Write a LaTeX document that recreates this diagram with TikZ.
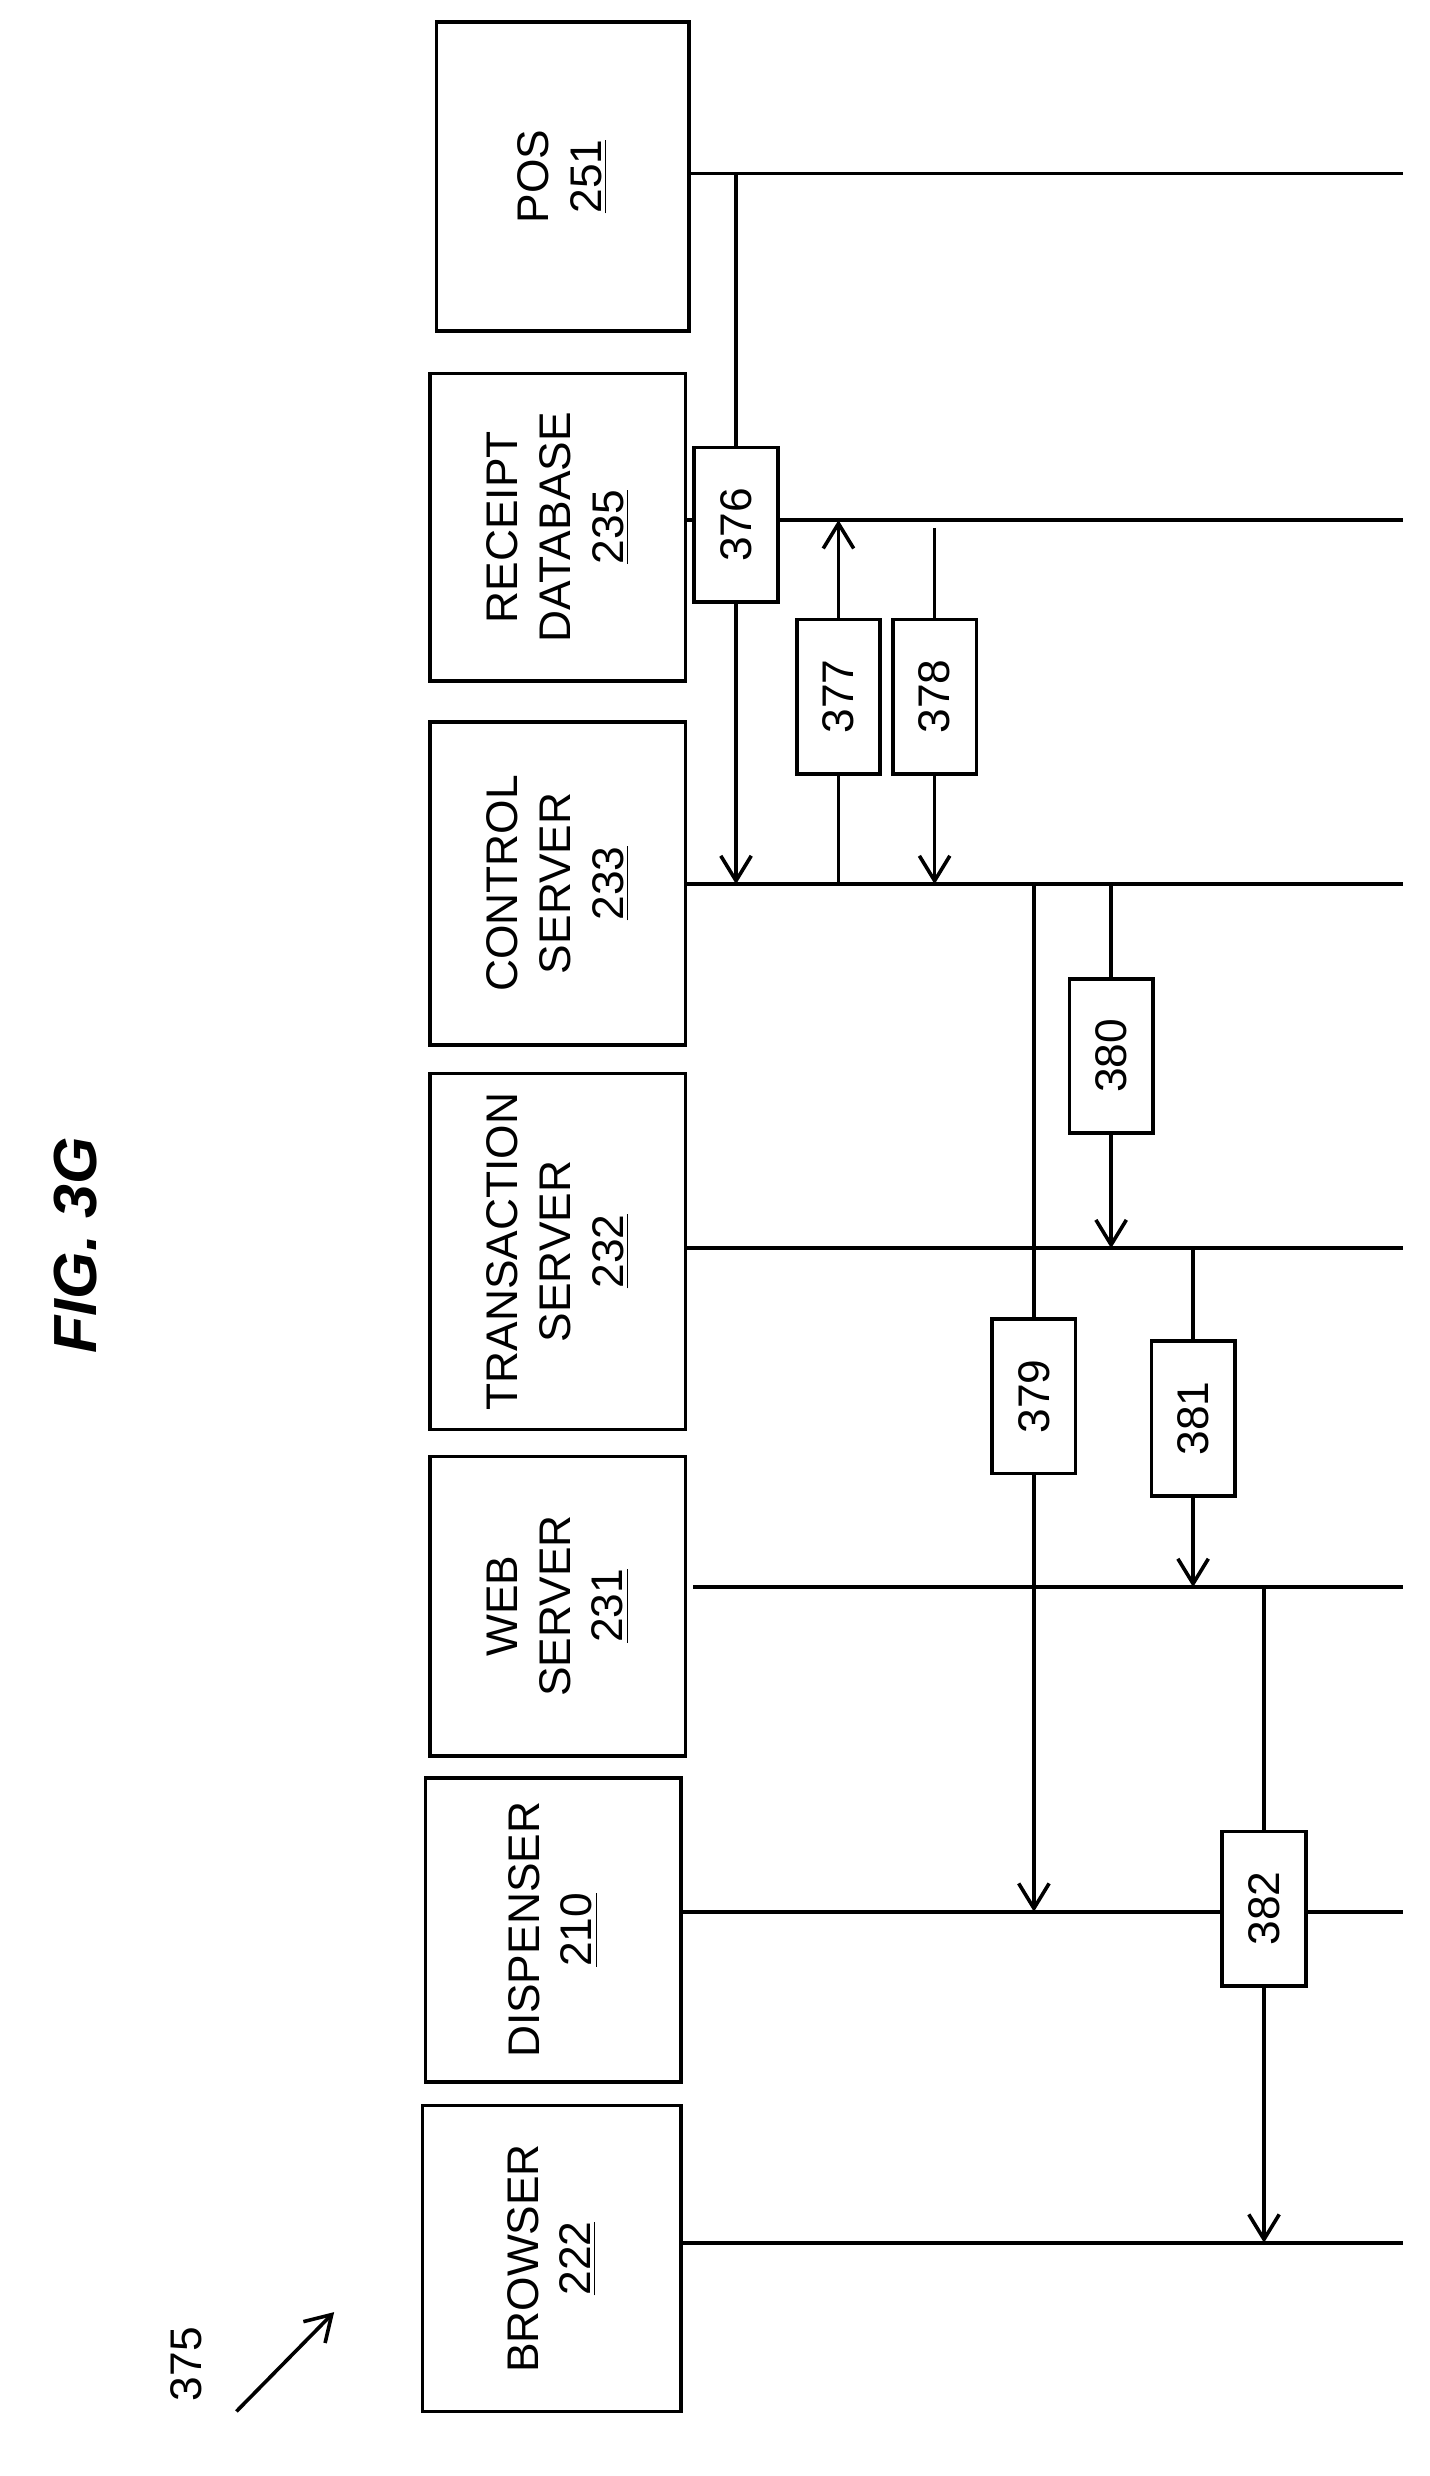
\documentclass[tikz,border=0pt]{standalone}
\usepackage{fontspec}
\setmainfont{Liberation Sans}
\usetikzlibrary{positioning,arrows.meta}

\begin{document}
\begin{tikzpicture}[
x=0.02cm, y=-0.02cm,
line width=1.3pt,
tag/.style={draw, fill=white, rotate=90, inner sep=0pt,
            minimum width=98*0.02cm, minimum height=53*0.02cm,
            font=\fontsize{16}{19}\selectfont},
msg/.style={-{Straight Barb[length=9pt,width=11pt]}}
]
\useasboundingbox (0,0) rectangle (907,1571);

% units (boxes are rotated: width = vertical extent)
\foreach \nm/\txt/\xa/\xb/\ya/\yb in {
  pos/{POS\\\underline{251}}/277/437/14/210,
  rdb/{RECEIPT\\DATABASE\\\underline{235}}/273/435/237/432,
  ctl/{CONTROL\\SERVER\\\underline{233}}/273/435/458/663,
  trn/{TRANSACTION\\SERVER\\\underline{232}}/273/435/681/907,
  web/{WEB\\SERVER\\\underline{231}}/273/435/924/1114,
  dsp/{DISPENSER\\\underline{210}}/270/432/1128/1321,
  brw/{BROWSER\\\underline{222}}/268/432/1336/1530} {
  \draw (\xa,\ya) rectangle (\xb,\yb);
  \node[rotate=90, align=center, font=\fontsize{16}{19}\selectfont] (\nm) at ({(\xa+\xb)/2},{(\ya+\yb)/2}) {\txt};
}

% lifelines
\foreach \nm/\xa/\yy in {pos/437/110, rdb/435/330, ctl/435/561, trn/435/792,
                         web/440/1007, dsp/432/1213, brw/432/1423} {
  \coordinate (\nm-a) at (\xa,\yy);
  \coordinate (\nm-b) at (890,\yy);
  \draw (\nm-a) -- (\nm-b);
}

% messages
\foreach \lbl/\xx/\ya/\yb/\ty in {376/467/110/561/333, 377/532/561/330/442,
    378/593/335/561/442, 379/656/561/1213/886, 380/705/561/792/670,
    381/757/792/1007/900, 382/802/1007/1423/1211} {
  \coordinate (s\lbl) at (\xx,\ya);
  \coordinate (e\lbl) at (\xx,\yb);
  \draw[msg] (s\lbl) -- (e\lbl);
  \node[tag] (t\lbl) at (\xx,\ty) {\lbl};
}

% title and reference
\node[rotate=90, font=\fontsize{22}{26}\selectfont\bfseries\itshape] (fig) at (48,790) {FIG. 3G};
\node[rotate=90, font=\fontsize{16}{19}\selectfont] (ref) at (118,1500) {375};
\coordinate (r1) at (150,1530);
\coordinate (r2) at (212,1467);
\draw[msg] (r1) -- (r2);

\end{tikzpicture}
\end{document}
